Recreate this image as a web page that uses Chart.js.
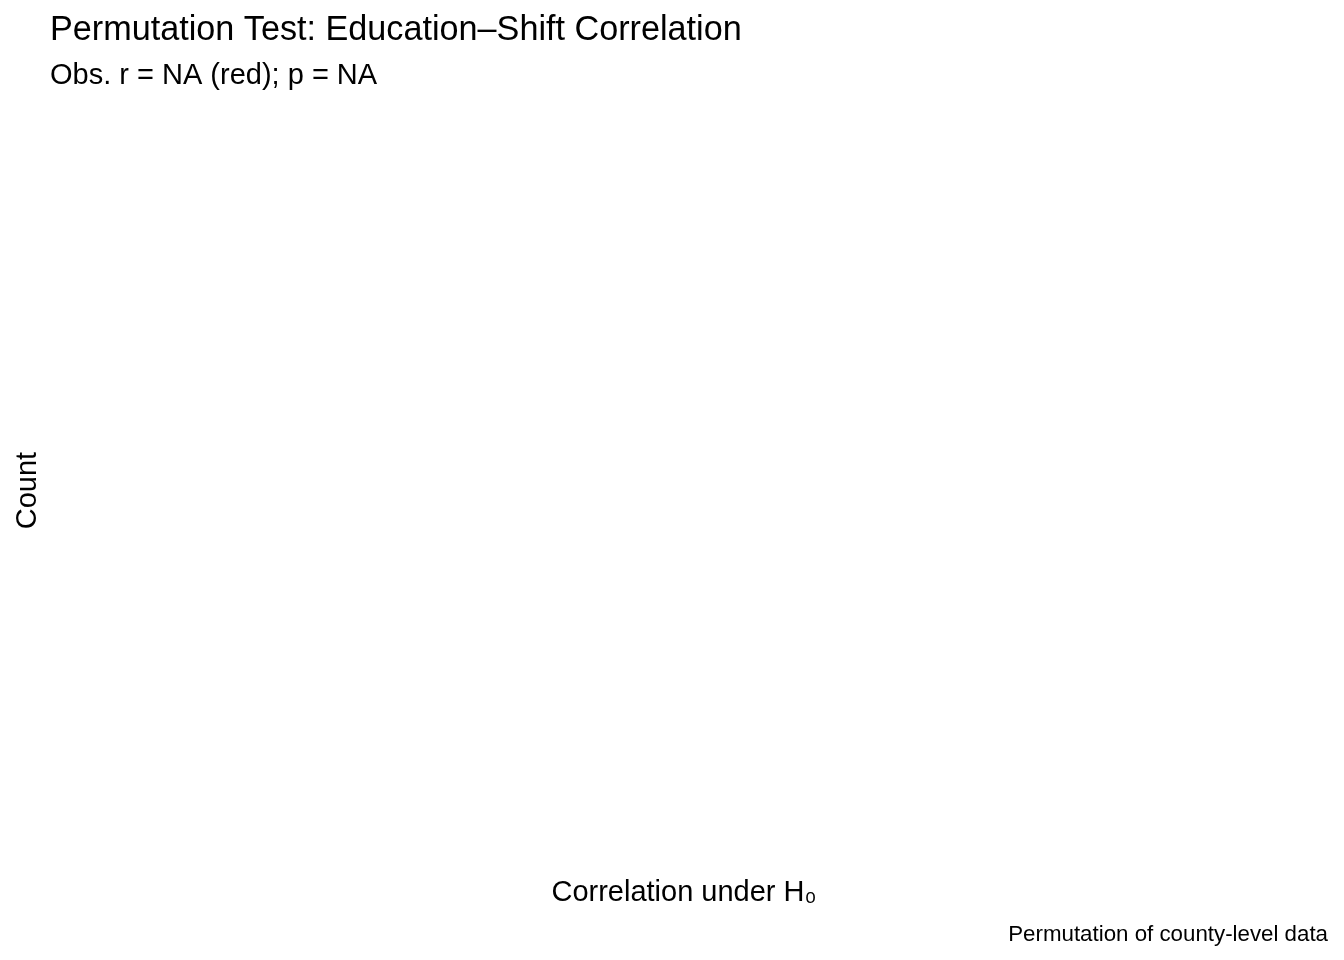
<!DOCTYPE html>
<html>
<head>
<meta charset="utf-8">
<script src="https://cdn.jsdelivr.net/npm/chart.js@4.4.1/dist/chart.umd.min.js"></script>
<style>
  html, body { margin: 0; padding: 0; background: #ffffff; }
  #wrap { width: 1344px; height: 960px; position: relative; }
</style>
</head>
<body>
<div id="wrap"><canvas id="c"></canvas></div>
<script>
// Permutation null distribution: no valid correlations (all NA) -> empty histogram
const binCenters = [];
const binCounts = [];
const titleText = "Permutation Test: Education\u2013Shift Correlation";
const subtitleText = "Obs. r = NA (red); p = NA";
const xTitle = "Correlation under H\u2080";
const yTitle = "Count";
const captionText = "Permutation of county-level data";

const FONT = "'Liberation Sans', Arial, sans-serif";

const captionPlugin = {
  id: 'caption',
  afterDraw(chart) {
    const ctx = chart.ctx;
    ctx.save();
    ctx.font = "22.3px " + FONT;
    ctx.fillStyle = "#000000";
    ctx.textAlign = "right";
    ctx.textBaseline = "alphabetic";
    ctx.fillText(captionText, chart.width - 16, 941);
    ctx.restore();
  }
};

new Chart(document.getElementById('c'), {
  type: 'bar',
  data: {
    labels: binCenters,
    datasets: [{
      label: 'Count',
      data: binCounts,
      backgroundColor: '#595959',
      borderColor: '#ffffff',
      borderWidth: 1,
      barPercentage: 1,
      categoryPercentage: 1
    }]
  },
  plugins: [captionPlugin],
  options: {
    responsive: true,
    maintainAspectRatio: false,
    animation: false,
    layout: { padding: { left: 10, right: 26, top: 10, bottom: 44 } },
    plugins: {
      legend: { display: false },
      tooltip: { enabled: false },
      title: {
        display: true,
        text: titleText,
        align: 'start',
        fullSize: false,
        color: '#000000',
        font: { family: FONT, size: 34.2, weight: 'normal' },
        padding: { top: 0, bottom: 8 }
      },
      subtitle: {
        display: true,
        text: subtitleText,
        align: 'start',
        fullSize: false,
        color: '#000000',
        font: { family: FONT, size: 29, weight: 'normal' },
        padding: { top: 0, bottom: 24 }
      }
    },
    scales: {
      x: {
        type: 'category',
        grid: { display: false },
        border: { display: false },
        ticks: { display: false },
        title: {
          display: true,
          text: xTitle,
          color: '#000000',
          font: { family: FONT, size: 29 },
          padding: { top: 4, bottom: 6 }
        }
      },
      y: {
        beginAtZero: true,
        grid: { display: false },
        border: { display: false },
        ticks: { display: false },
        title: {
          display: true,
          text: yTitle,
          color: '#000000',
          font: { family: FONT, size: 29, lineHeight: 1 },
          padding: { top: 3, bottom: 0 }
        }
      }
    }
  }
});
</script>
</body>
</html>
